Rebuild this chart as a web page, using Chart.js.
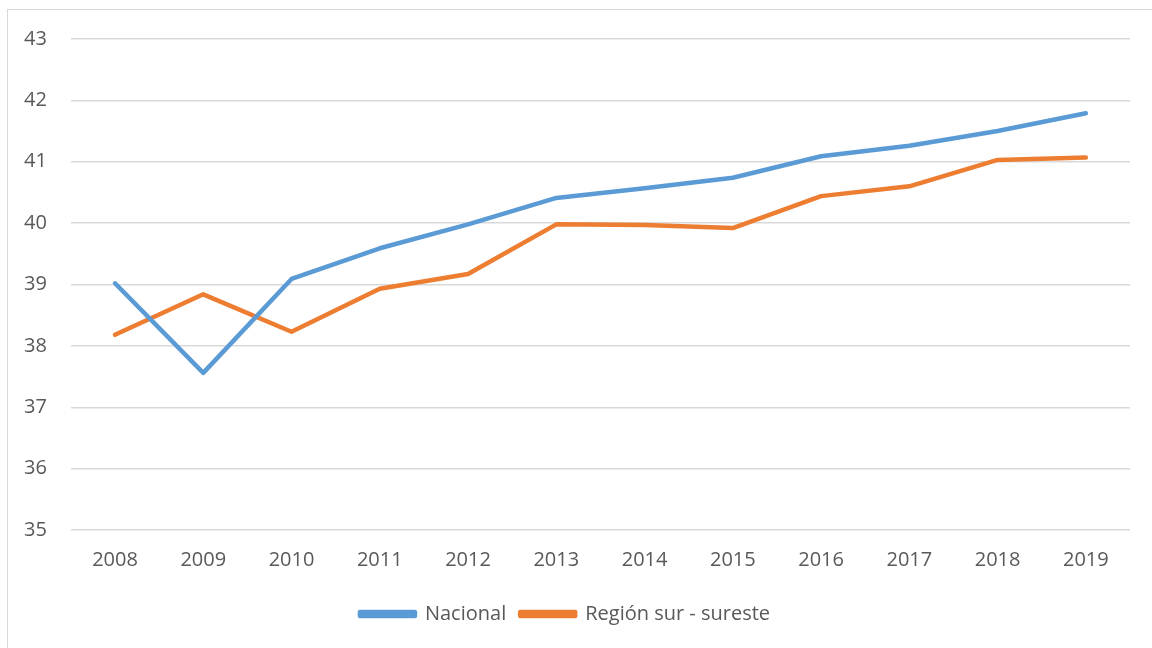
<!DOCTYPE html>
<html lang="es">
<head>
    <meta charset="UTF-8">
    <script src="https://cdn.jsdelivr.net/npm/chart.js"></script>
    <title>Nacional vs Región sur - sureste</title>
    <style>
        body { margin: 0; background: #fff; }
        #wrap { position: relative; width: 1152px; height: 648px; overflow: hidden; }
        #frame { position: absolute; left: 7px; top: 9px; width: 1200px; height: 700px; border: 1px solid #d9d9d9; }
        canvas { position: absolute; left: 0; top: 0; }
    </style>
</head>
<body>
    <div id="wrap">
        <div id="frame"></div>
        <canvas id="myChart" width="1152" height="648"></canvas>
    </div>

    <script>
        const years = ['2008', '2009', '2010', '2011', '2012', '2013', '2014', '2015', '2016', '2017', '2018', '2019'];
        const nacional = [39.02, 37.56, 39.09, 39.59, 39.98, 40.41, 40.57, 40.74, 41.09, 41.26, 41.50, 41.79];
        const regionSurSureste = [38.18, 38.84, 38.23, 38.93, 39.17, 39.98, 39.97, 39.92, 40.44, 40.60, 41.03, 41.07];

        Chart.defaults.font.family = '"Open Sans", "Liberation Sans", sans-serif';
        Chart.defaults.font.size = 20;
        Chart.defaults.color = '#595959';

        const ctx = document.getElementById('myChart').getContext('2d');
        const myChart = new Chart(ctx, {
            type: 'line',
            data: {
                labels: years,
                datasets: [{
                    label: 'Nacional',
                    data: nacional,
                    borderColor: '#5B9BD5',
                    backgroundColor: '#5B9BD5',
                    borderWidth: 4.5,
                    borderCapStyle: 'round',
                    borderJoinStyle: 'round',
                    pointRadius: 0,
                    fill: false,
                    tension: 0
                }, {
                    label: 'Región sur - sureste',
                    data: regionSurSureste,
                    borderColor: '#ED7D31',
                    backgroundColor: '#ED7D31',
                    borderWidth: 4.5,
                    borderCapStyle: 'round',
                    borderJoinStyle: 'round',
                    pointRadius: 0,
                    fill: false,
                    tension: 0
                }]
            },
            options: {
                responsive: false,
                animation: false,
                layout: { padding: { left: 0, right: 22, top: 39, bottom: 14 } },
                plugins: {
                    tooltip: { enabled: false },
                    legend: {
                        position: 'bottom',
                        labels: {
                            boxWidth: 55,
                            boxHeight: 4,
                            padding: 14,
                            color: '#595959'
                        }
                    }
                },
                scales: {
                    x: {
                        offset: true,
                        grid: { display: false, drawTicks: false },
                        border: { display: false },
                        ticks: { padding: 18, maxRotation: 0 }
                    },
                    y: {
                        min: 35,
                        max: 43,
                        grid: { color: '#d9d9d9', lineWidth: 1.5, drawTicks: false },
                        border: { display: false },
                        ticks: { stepSize: 1, padding: 24 }
                    }
                }
            }
        });
    </script>
</body>
</html>
